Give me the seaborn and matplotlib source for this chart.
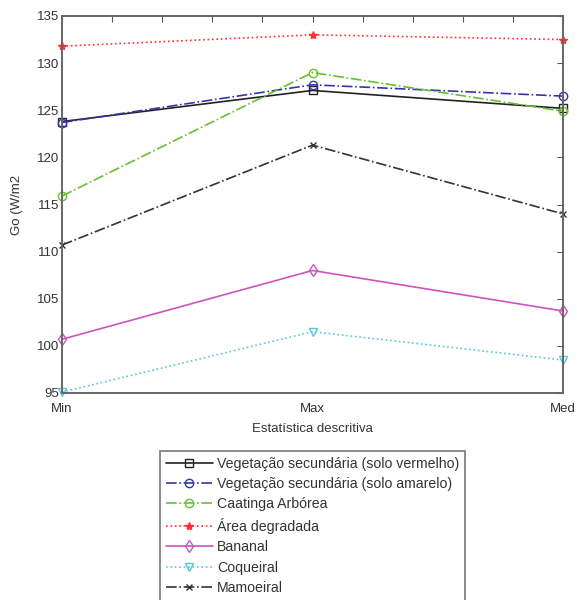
import numpy as np
import pandas as pd
import matplotlib
matplotlib.use("Agg")
import matplotlib.pyplot as plt
import seaborn as sns

categories = ["Min", "Max", "Med"]
x_pos = [0, 1, 2]
series_names = [
    "Vegetação secundária (solo vermelho)",
    "Vegetação secundária (solo amarelo)",
    "Caatinga Arbórea",
    "Área degradada",
    "Bananal",
    "Coqueiral",
    "Mamoeiral",
]
veg_vermelho = [123.8, 127.1, 125.2]
veg_amarelo = [123.7, 127.7, 126.5]
caatinga = [115.9, 129.0, 124.9]
area_degradada = [131.8, 133.0, 132.5]
bananal = [100.7, 108.0, 103.7]
coqueiral = [95.1, 101.5, 98.5]
mamoeiral = [110.7, 121.3, 114.0]
values = [veg_vermelho, veg_amarelo, caatinga, area_degradada, bananal, coqueiral, mamoeiral]

colors = ["#222222", "#3535a8", "#66c02e", "#ff3030", "#cc55bb", "#55c8dc", "#333333"]
linestyles = ["-", "-.", "-.", ":", "-", ":", "-."]
markers = ["s", "o", "o", "*", "d", "v", "x"]

sns.set_theme(style="white")
plt.rcParams["font.family"] = ["Liberation Sans", "DejaVu Sans"]

fig = plt.figure(figsize=(5.77, 6.0), dpi=100)
ax = fig.add_axes([62/577, 1-393/600, (563-62)/577, (393-16)/600])

for name, vals, c, ls, m in zip(series_names, values, colors, linestyles, markers):
    df = pd.DataFrame({"x": x_pos, "y": vals})
    filled = m in ("*",)
    sns.lineplot(data=df, x="x", y="y", ax=ax, color=c, linestyle=ls, linewidth=1.2,
                 marker=m, markersize=6 if m != "x" else 5,
                 markerfacecolor=(c if filled else "none"), markeredgecolor=c,
                 markeredgewidth=1.0, label=name, legend=False, clip_on=False)

ax.set_xlim(0, 2)
ax.set_ylim(95, 135)
ticks = np.arange(0, 2.001, 0.2)
ax.set_xticks(ticks)
lbls = [""] * len(ticks)
lbls[0], lbls[5], lbls[10] = categories
ax.set_xticklabels(lbls)
ax.set_yticks(np.arange(95, 136, 5))
ax.tick_params(direction="in", length=4, width=0.8, colors="#555555", labelcolor="#333333",
               labelsize=9.5, top=True, right=True, pad=2)
ax.tick_params(axis="x", pad=7)
for s in ax.spines.values():
    s.set_color("#666666")
    s.set_linewidth(1.4)
ax.set_xlabel("Estatística descritiva", fontsize=9.5, color="#333333", labelpad=6)
ax.set_ylabel("Go (W/m2", fontsize=9.5, color="#333333", labelpad=10)

handles, labels = ax.get_legend_handles_labels()
leg = fig.legend(handles, labels, loc="upper center", bbox_to_anchor=(312.5/577, 1-451/600),
                 frameon=True, fancybox=False, edgecolor="#555555", fontsize=10.2,
                 handlelength=3.3, labelspacing=0.45, borderpad=0.4, handletextpad=0.3,
                 borderaxespad=0, labelcolor="#333333")
leg.get_frame().set_linewidth(1.2)

fig.savefig("out.png", dpi=100, facecolor="white")
